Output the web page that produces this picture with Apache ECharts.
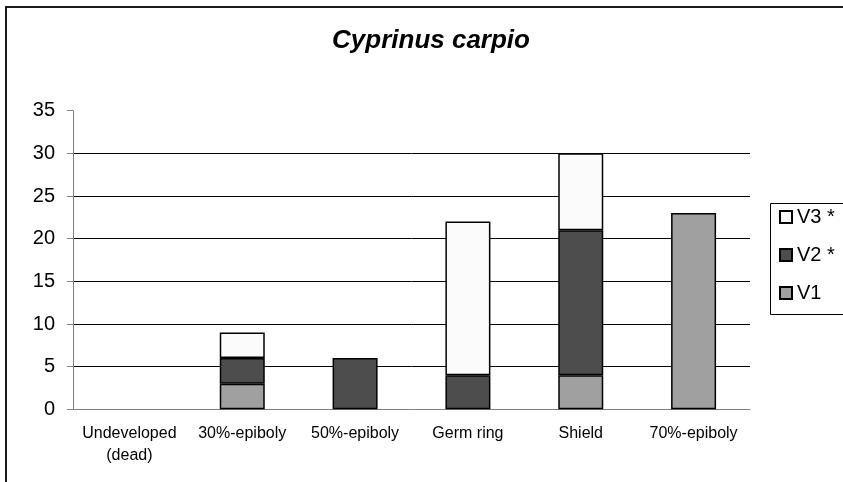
<!DOCTYPE html>
<html><head><meta charset="utf-8">
<script src="https://cdn.jsdelivr.net/npm/echarts@6/dist/echarts.min.js"></script>
<style>html,body{margin:0;padding:0;background:#fff}#c{width:843px;height:482px}</style>
</head><body><div id="c"></div>
<script>
const categories = ['Undeveloped\n(dead)', '30%-epiboly', '50%-epiboly', 'Germ ring', 'Shield', '70%-epiboly'];
const v1 = [0, 3, 0, 0, 4, 23];
const v2 = [0, 3, 6, 4, 17, 0];
const v3 = [0, 3, 0, 18, 9, 0];
const seriesNames = ['V1', 'V2 *', 'V3 *'];
const legendOrder = ['V3 *', 'V2 *', 'V1'];
const yTicks = {min: 0, max: 35, interval: 5};

// zero-height segments are not drawn in the original
const hideZero = arr => arr.map(v => (v === 0 ? null : v));

const FONT = '"Liberation Sans", Arial, sans-serif';
const chart = echarts.init(document.getElementById('c'), null, {renderer: 'canvas'});
const border = {borderColor: '#000', borderWidth: 1.5};
chart.setOption({
  animation: false,
  backgroundColor: '#fff',
  textStyle: {fontFamily: FONT},
  title: {
    text: 'Cyprinus carpio', left: 426, top: 23, textAlign: 'center',
    textStyle: {fontFamily: FONT, fontSize: 26, fontWeight: 'bold', fontStyle: 'italic', color: '#000'}
  },
  grid: {left: 73, right: 93, top: 110.7, bottom: 72.7, containLabel: false},
  legend: {
    orient: 'vertical', left: 779, top: 207, itemWidth: 12, itemHeight: 12, itemGap: 18, padding: 0,
    data: legendOrder, icon: 'rect',
    textStyle: {fontFamily: FONT, fontSize: 20, color: '#000'}
  },
  xAxis: {
    type: 'category', data: categories,
    axisLine: {lineStyle: {color: '#808080', width: 1}},
    axisTick: {length: 6, lineStyle: {color: '#808080'}},
    axisLabel: {fontFamily: FONT, fontSize: 16, color: '#000', lineHeight: 22, margin: 13, interval: 0}
  },
  yAxis: {
    type: 'value', min: yTicks.min, max: yTicks.max, interval: yTicks.interval,
    axisLine: {show: true, lineStyle: {color: '#808080', width: 1}},
    axisTick: {show: true, length: 6, lineStyle: {color: '#808080'}},
    axisLabel: {fontFamily: FONT, fontSize: 20, color: '#000', margin: 18},
    splitLine: {show: true, lineStyle: {color: ['rgba(0,0,0,0)', '#000', '#000', '#000', '#000', '#000', '#000', 'rgba(0,0,0,0)'], width: 1}}
  },
  series: [
    {name: seriesNames[0], type: 'bar', stack: 's', data: hideZero(v1), barWidth: 45, itemStyle: Object.assign({color: '#a0a0a0'}, border)},
    {name: seriesNames[1], type: 'bar', stack: 's', data: hideZero(v2), barWidth: 45, itemStyle: Object.assign({color: '#4d4d4d'}, border)},
    {name: seriesNames[2], type: 'bar', stack: 's', data: hideZero(v3), barWidth: 45, itemStyle: Object.assign({color: '#fbfbfb'}, border)}
  ],
  graphic: [
    {type: 'rect', shape: {x: 6, y: 7, width: 1000, height: 1000}, style: {fill: 'none', stroke: '#1a1a1a', lineWidth: 2}, silent: true},
    {type: 'rect', shape: {x: 770.5, y: 203.5, width: 200, height: 111}, style: {fill: 'none', stroke: '#000', lineWidth: 1}, silent: true}
  ]
});
</script></body></html>
